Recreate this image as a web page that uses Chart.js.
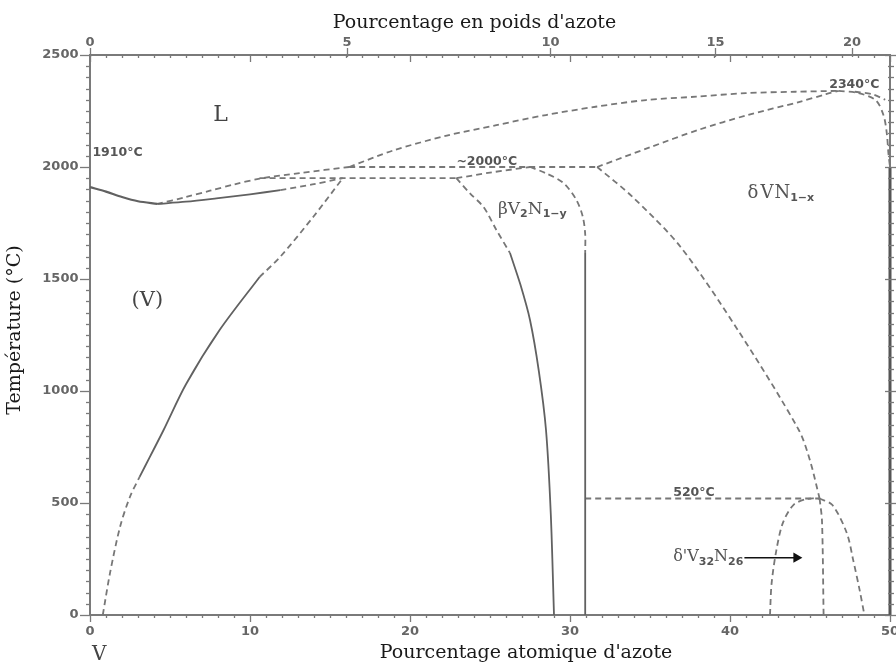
<!DOCTYPE html>
<html><head><meta charset="utf-8">
<script src="https://cdn.jsdelivr.net/npm/chart.js@4.4.1/dist/chart.umd.min.js"></script>
<style>html,body{margin:0;padding:0;background:#fff}</style>
</head><body>
<canvas id="c" width="896" height="666"></canvas>
<script>
// ---- tick labels ----
const atTickLabels = [0, 10, 20, 30, 40, 50];          // atomic % N (bottom)
const tempTickLabels = [0, 500, 1000, 1500, 2000, 2500]; // °C (left)
const wtTickLabels = [0, 5, 10, 15, 20];                 // weight % N (top)

// ---- phase boundaries: [atomic % N, temperature °C] ----
const vLiquidusLow   = [[0,1910],[1,1890],[2,1866],[3,1847],[4.2,1835]];
const vSolidusSolid  = [[4.2,1835],[6,1845],[7.9,1860],[10,1878],[11.9,1897]];
const vSolidusDash   = [[11.9,1897],[13.9,1922],[15.8,1950]];
const liquidusLow    = [[4.2,1835],[6,1866],[7.5,1894],[9,1922],[10.6,1948],[13.1,1973],[16.2,2000]];
const liquidusHigh   = [[16.2,2000],[19,2075],[22.3,2140],[25.4,2187],[28.5,2232],[31.6,2269],[34.75,2299],[37.9,2314],[41,2330],[44.1,2336],[46.8,2340]];
const deltaSolidus   = [[31.7,2000],[35,2088],[38,2165],[41.1,2232],[44.3,2290],[46,2325],[46.8,2340]];
const deltaRight     = [[46.8,2340],[48,2330],[49.1,2299],[49.6,2230],[49.8,2150],[49.9,2062],[50,2000]];
const deltaRightTop  = [[47.8,2336],[48.9,2325],[49.7,2300]];
const peritectic1950 = [[10.6,1950],[22.9,1950]];
const peritectic2000 = [[16.2,2000],[31.7,2000]];
const betaTop        = [[22.9,1950],[25,1975],[27.5,2000]];
const betaLeftDash   = [[22.9,1950],[23.75,1882],[24.6,1821],[25.4,1719],[26.25,1616]];
const betaLeftSolid  = [[26.25,1616],[26.9,1475],[27.5,1317],[28.05,1090],[28.5,826],[28.8,450],[29,0]];
const betaRightDash  = [[27.5,2000],[28.5,1972],[29.6,1928],[30.4,1853],[30.8,1778],[30.95,1700],[30.95,1616]];
const betaRightSolid = [[30.95,1616],[30.95,0]];
const deltaLeftHigh  = [[31.7,2000],[33.9,1867],[36.9,1644],[40.6,1260],[44.3,826],[45,690],[45.6,520]];
const deltaLeftLow   = [[45.6,520],[46.4,491],[47.3,366],[47.7,245],[48.1,112],[48.4,0]];
const eutectoid520   = [[30.95,520],[45.6,520]];
const deltaPrimeDome = [[42.5,0],[42.6,141],[42.9,290],[43.3,410],[43.96,491],[44.8,518],[45.6,520]];
const deltaPrimeRight= [[45.6,520],[45.75,420],[45.85,0]];
const solvusLowDash  = [[0.8,0],[1.25,187],[1.88,394],[2.5,528],[3.1,617]];
const solvusSolid    = [[3.1,617],[3.75,707],[4.6,826],[6,1030],[8.1,1272],[10.6,1509]];
const solvusHighDash = [[10.6,1509],[11.9,1600],[13.96,1778],[15.8,1950]];
const vnLine         = [[50,0],[50,2000]];
const arrowLine      = [[40.9,256],[44.15,256]];

// ---- labels placed in data coordinates ----
const SERIF = '"DejaVu Serif", "Liberation Serif", serif';
const SANS = '"DejaVu Sans", sans-serif';
const annotations = [
  {x:7.7,  T:2232, color:'#444', runs:[{t:'L', f:'22px '+SERIF}]},
  {x:2.6,  T:1406, color:'#444', runs:[{t:'(V)', f:'21px '+SERIF}]},
  {x:0.15, T:2062, color:'#555', runs:[{t:'1910°C', f:'bold 12.5px '+SANS}]},
  {x:22.9, T:2022, color:'#555', runs:[{t:'~2000°C', f:'bold 12.5px '+SANS}]},
  {x:46.2, T:2366, color:'#555', runs:[{t:'2340°C', f:'bold 12.5px '+SANS}]},
  {x:36.45,T:545,  color:'#555', runs:[{t:'520°C', f:'bold 12.5px '+SANS}]},
  {x:25.5, T:1812, color:'#555', runs:[
    {t:'β', f:'17px '+SERIF},{t:'V', f:'17px '+SERIF},{t:'2', f:'bold 11px '+SANS, dy:5},
    {t:'N', f:'17px '+SERIF},{t:'1−y', f:'bold 11px '+SANS, dy:5}]},
  {x:41.1, T:1884, color:'#555', runs:[
    {t:'δ', f:'18px '+SERIF, sp:2},{t:'V', f:'18px '+SERIF, sp:1},{t:'N', f:'18px '+SERIF},{t:'1−x', f:'bold 11px '+SANS, dy:5}]},
  {x:36.45,T:259,  color:'#555', runs:[
    {t:'δ\'V', f:'16px '+SERIF},{t:'32', f:'bold 11px '+SANS, dy:5},{t:'N', f:'16px '+SERIF},{t:'26', f:'bold 11px '+SANS, dy:5}]},
  {x:0.13, T:-179, color:'#444', runs:[{t:'V', f:'20px '+SERIF}]}
];

const SOLID = '#616161', DASH = '#777777';
function line(points, dashed, extra) {
  return Object.assign({
    data: points.map(p => ({x: p[0], y: p[1]})),
    showLine: true, borderColor: dashed ? DASH : SOLID, borderWidth: 1.8,
    borderDash: dashed ? [6, 4] : [], pointRadius: 0, pointHoverRadius: 0,
    tension: 0.3, fill: false, clip: 6
  }, extra || {});
}

const datasets = [
  line(vLiquidusLow, false, {borderWidth: 2.2}),
  line(vSolidusSolid, false),
  line(vSolidusDash, true),
  line(liquidusLow, true),
  line(liquidusHigh, true),
  line(deltaSolidus, true),
  line(deltaRight, true),
  line(deltaRightTop, true),
  line(peritectic1950, true, {tension: 0}),
  line(peritectic2000, true, {tension: 0}),
  line(betaTop, true),
  line(betaLeftDash, true),
  line(betaLeftSolid, false),
  line(betaRightDash, true),
  line(betaRightSolid, false, {tension: 0}),
  line(deltaLeftHigh, true),
  line(deltaLeftLow, true),
  line(eutectoid520, true, {tension: 0}),
  line(deltaPrimeDome, true),
  line(deltaPrimeRight, true),
  line(solvusLowDash, true),
  line(solvusSolid, false),
  line(solvusHighDash, true),
  line(vnLine, false, {tension: 0, borderWidth: 3, borderColor: '#555'}),
  line(arrowLine, false, {tension: 0, borderColor: '#111', borderWidth: 1.5,
    pointRadius: [0, 6], pointStyle: 'triangle', rotation: 90,
    pointBackgroundColor: '#111', pointBorderColor: '#111', pointBorderWidth: 0})
];

function wtToAt(w) { // weight % N -> atomic % N (N 14.007, V 50.9415)
  const n = w / 14.007, v = (100 - w) / 50.9415;
  return 100 * n / (n + v);
}

const AXIS = '#7a7a7a';
const tickFont = {family: '"DejaVu Sans", sans-serif', size: 13, weight: 'bold'};

const tickPlugin = {
  id: 'tickMarks',
  afterDraw(chart) {
    const {ctx, chartArea: ca, scales: {x, y}} = chart;
    ctx.save();
    ctx.strokeStyle = AXIS; ctx.lineWidth = 1.3;
    const seg = (x1, y1, x2, y2) => { ctx.beginPath(); ctx.moveTo(x1, y1); ctx.lineTo(x2, y2); ctx.stroke(); };
    for (let v = 0; v <= 50; v++) {
      const px = Math.round(x.getPixelForValue(v)) + 0.5;
      const major = v % 10 === 0;
      seg(px, ca.bottom, px, ca.bottom + (major ? 7 : 3));
      seg(px, ca.top, px, ca.top + (major ? 7 : 3));
    }
    for (const w of wtTickLabels) {
      const px = Math.round(x.getPixelForValue(wtToAt(w))) + 0.5;
      seg(px, ca.top - 7, px, ca.top + 2);
    }
    for (let t = 0; t <= 2500; t += 50) {
      const py = Math.round(y.getPixelForValue(t)) + 0.5;
      const major = t % 500 === 0;
      seg(ca.left - (major ? 10 : 4), py, ca.left, py);
      seg(ca.right - (major ? 5 : 2), py, ca.right + (major ? 6 : 4), py);
    }
    ctx.restore();
  }
};

const textPlugin = {
  id: 'texts',
  afterDraw(chart) {
    const {ctx, chartArea: ca, scales: {x, y}} = chart;
    ctx.save();
    ctx.textBaseline = 'middle';
    ctx.textAlign = 'left';
    for (const a of annotations) {
      let px = x.getPixelForValue(a.x);
      const py = y.getPixelForValue(a.T);
      ctx.fillStyle = a.color;
      for (const r of a.runs) {
        ctx.font = r.f;
        ctx.fillText(r.t, px, py + (r.dy || 0));
        px += ctx.measureText(r.t).width + (r.sp || 0);
      }
    }
    // axis titles
    ctx.fillStyle = '#1a1a1a';
    ctx.font = '19px ' + SERIF;
    ctx.textAlign = 'center';
    ctx.textBaseline = 'alphabetic';
    ctx.fillText('Pourcentage en poids d\'azote', ca.left + 384.5, ca.top - 27);
    ctx.fillText('Pourcentage atomique d\'azote', ca.left + 436, ca.bottom + 43);
    ctx.save();
    ctx.translate(19.5, (ca.top + ca.bottom) / 2 - 5);
    ctx.rotate(-Math.PI / 2);
    ctx.fillText('Température (°C)', 0, 0);
    ctx.restore();
    ctx.restore();
  }
};

const noPad = s => { s.paddingLeft = 0; s.paddingRight = 0; s.paddingTop = 0; s.paddingBottom = 0; };

new Chart(document.getElementById('c'), {
  type: 'scatter',
  data: {datasets},
  options: {
    responsive: false, animation: false, devicePixelRatio: 1,
    layout: {padding: 0},
    plugins: {legend: {display: false}, tooltip: {enabled: false}},
    scales: {
      x: {
        type: 'linear', position: 'bottom', min: 0, max: 50,
        afterBuildTicks: s => { s.ticks = atTickLabels.map(v => ({value: v})); },
        ticks: {autoSkip: false, padding: 8.5, color: '#666', font: tickFont, maxRotation: 0,
          callback: (v, i) => String(atTickLabels[i])},
        grid: {display: false, drawTicks: false},
        border: {display: true, color: AXIS, width: 2},
        afterFit: s => { s.height = 51; noPad(s); }
      },
      x2: {
        type: 'linear', position: 'top', min: 0, max: 50,
        afterBuildTicks: s => { s.ticks = wtTickLabels.map(w => ({value: wtToAt(w)})); },
        ticks: {autoSkip: false, padding: 5, color: '#666', font: tickFont, maxRotation: 0,
          callback: (v, i) => String(wtTickLabels[i])},
        grid: {display: false, drawTicks: false},
        border: {display: true, color: AXIS, width: 2},
        afterFit: s => { s.height = 55; noPad(s); }
      },
      y: {
        type: 'linear', position: 'left', min: 0, max: 2500,
        afterBuildTicks: s => { s.ticks = tempTickLabels.map(v => ({value: v})); },
        ticks: {autoSkip: false, padding: 11.5, color: '#666', font: tickFont,
          callback: (v, i) => String(tempTickLabels[i])},
        grid: {display: false, drawTicks: false},
        border: {display: true, color: AXIS, width: 2},
        afterFit: s => { s.width = 90; noPad(s); }
      },
      y2: {
        type: 'linear', position: 'right', min: 0, max: 2500,
        ticks: {display: false},
        grid: {display: false, drawTicks: false},
        border: {display: true, color: AXIS, width: 2},
        afterFit: s => { s.width = 6; noPad(s); }
      }
    }
  },
  plugins: [tickPlugin, textPlugin]
});
</script>
</body></html>
